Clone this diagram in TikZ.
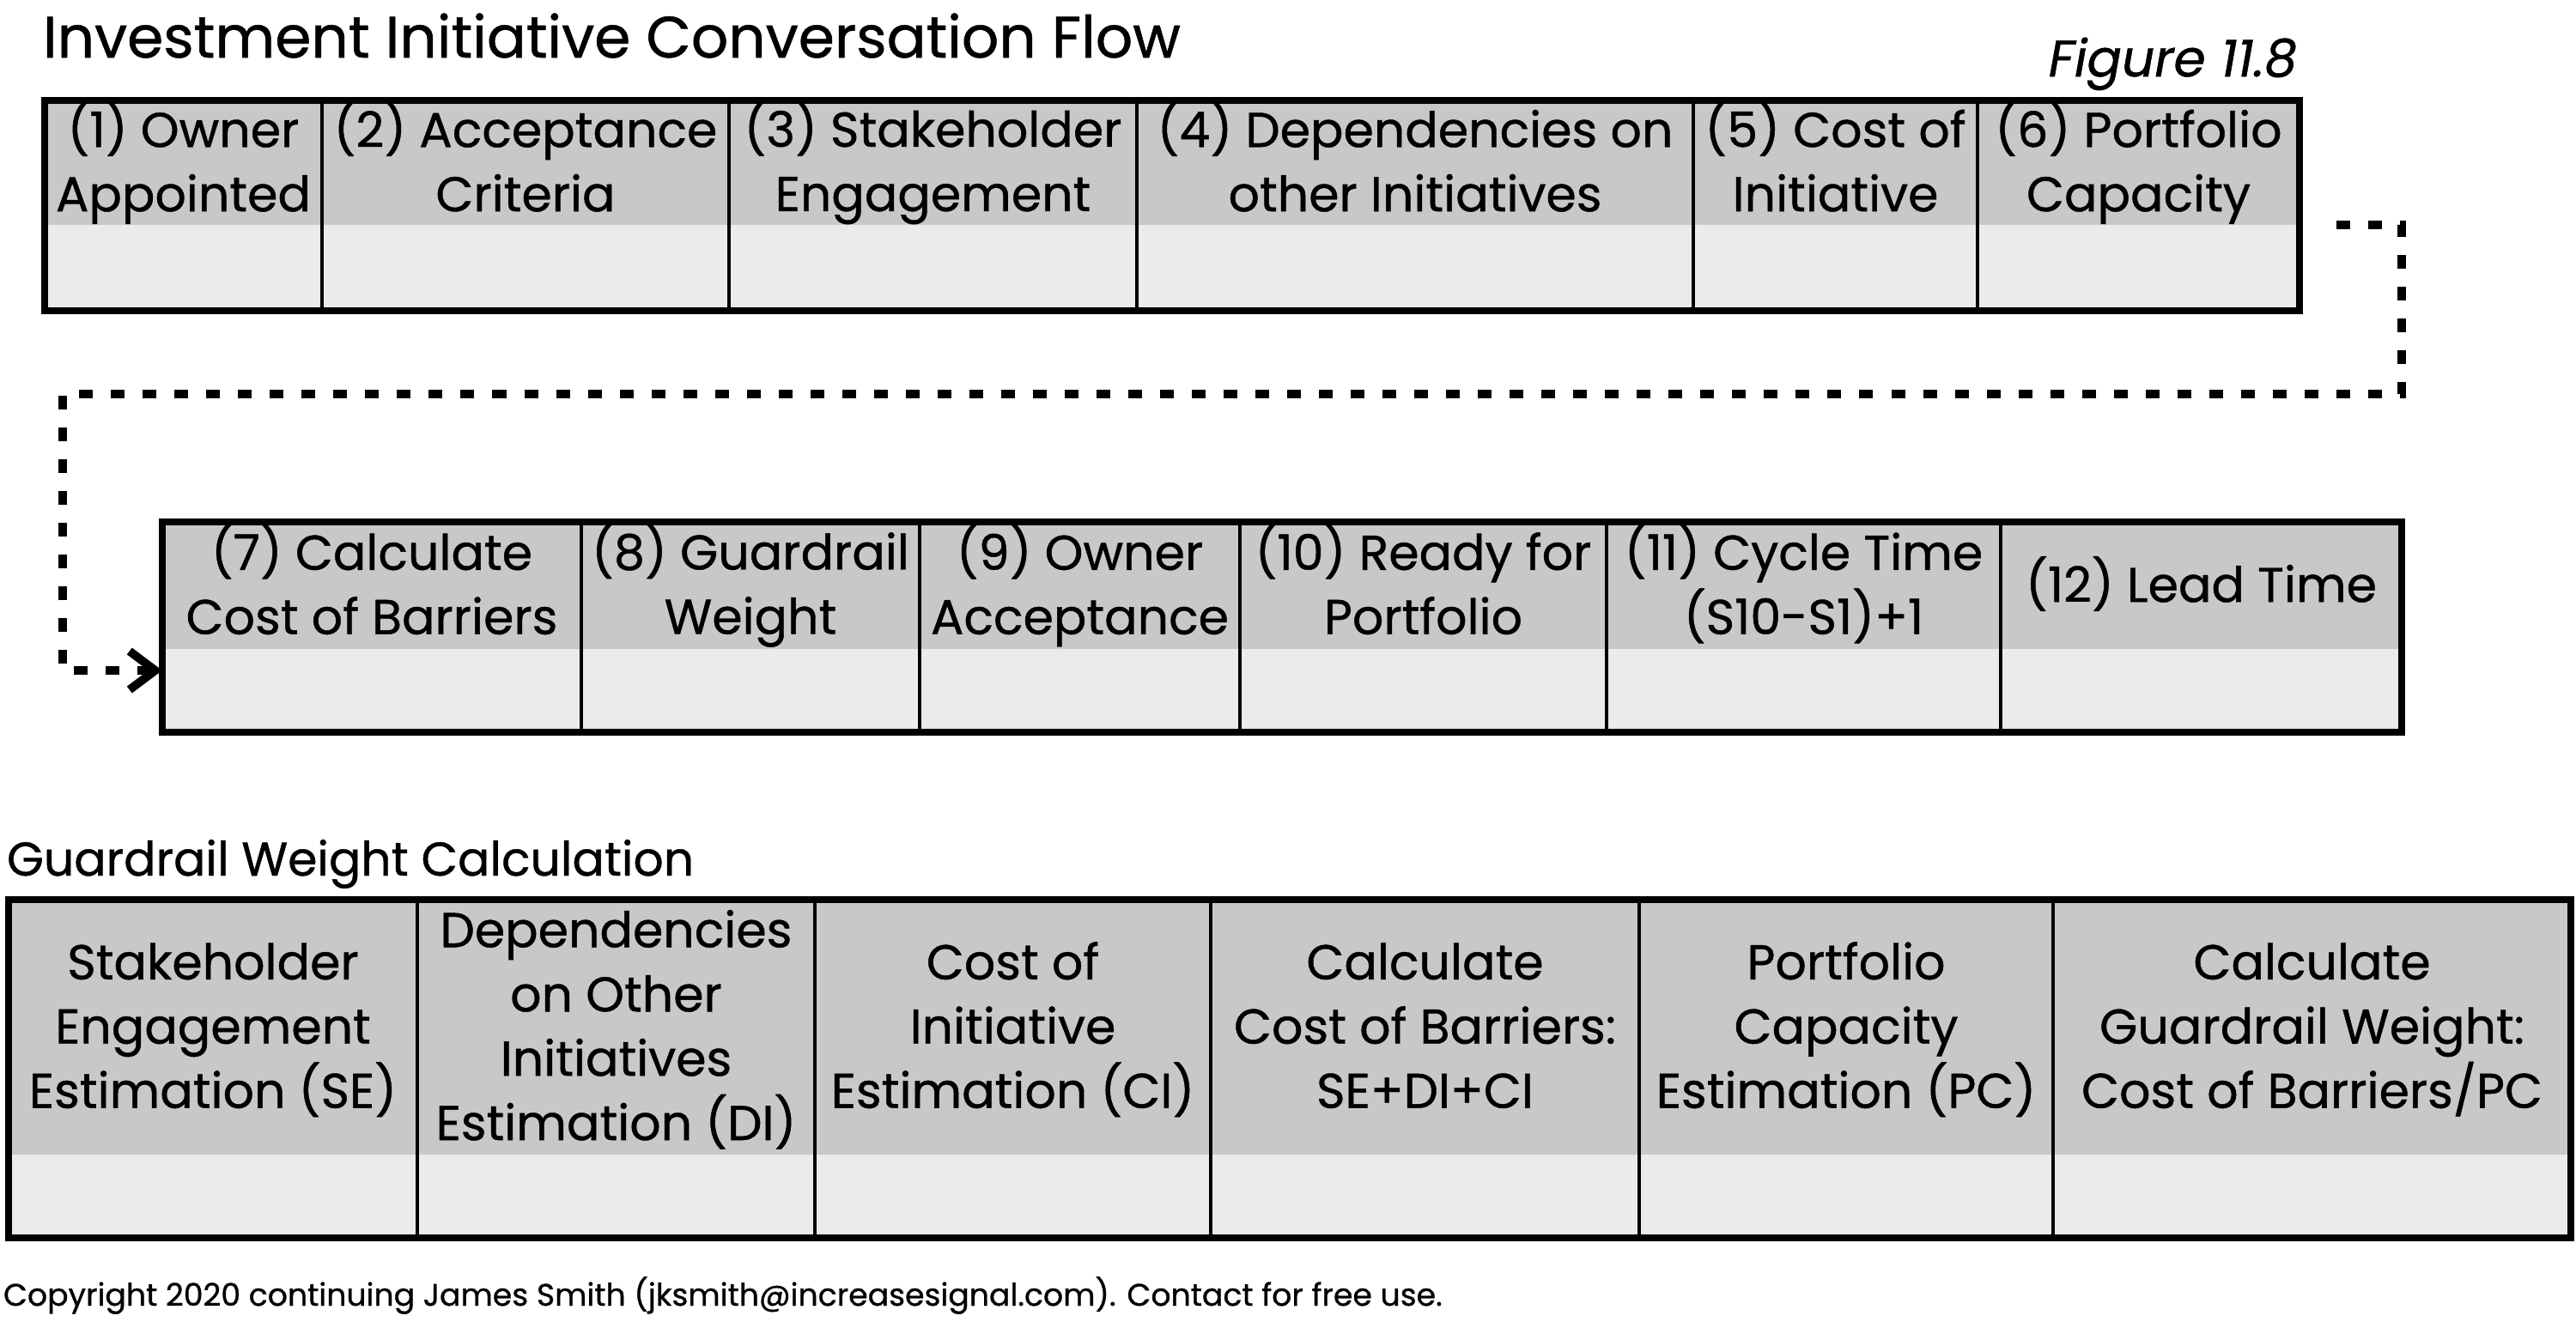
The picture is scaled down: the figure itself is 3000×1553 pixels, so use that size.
\documentclass[tikz,border=0pt]{standalone}
\usepackage{fontspec}
\setmainfont{Poppins}[FakeBold=0.8]
\usetikzlibrary{arrows.meta,calc}
\definecolor{headgray}{HTML}{C8C8C8}
\definecolor{bodygray}{HTML}{EBEBEB}

\tikzset{
  hcell/.style={fill=headgray, draw=none, inner sep=0pt, outer sep=0pt, anchor=north west,
    align=center, font=\fontsize{16.2}{21.3}\selectfont},
  bcell/.style={fill=bodygray, draw=none, inner sep=0pt, outer sep=0pt, anchor=north west},
  divider/.style={line width=1pt, black},
  tableframe/.style={line width=2.3pt, black},
  flow/.style={line width=2.8pt, dash pattern=on 0.16cm off 0.21cm,
    -{Straight Barb[length=0.3cm,width=0.45cm]}},
  label/.style={inner sep=0pt, outer sep=0pt},
}

% equal top and bottom extent for every header text
\newcommand\linestrut{\vphantom{(p}}

% one column of a table: header cell with its text, empty body cell below
% #1 name, #2 left, #3 right, #4 top, #5 header bottom, #6 bottom, #7 text
\newcommand\tcell[7]{%
  \node[hcell, minimum width={(#3-#2)*0.01cm}, minimum height={(#5-#4)*0.01cm}] (#1h) at (#2,#4)
    {\linestrut#7\linestrut};
  \node[bcell, minimum width={(#3-#2)*0.01cm}, minimum height={(#6-#5)*0.01cm}] (#1b) at (#2,#5) {};
}
\newcommand\tdiv[1]{\draw[divider] (#1h.north east) -- (#1b.south east);}

\begin{document}
\begin{tikzpicture}[x=0.01cm, y=-0.01cm]
\useasboundingbox (0,0) rectangle (3000,1553);

% titles
\node[label, anchor=base west, font=\fontsize{19.3}{23}\selectfont] (title) at (50,67)
  {Investment Initiative Conversation Flow};
\node[label, anchor=base east, font=\fontsize{17}{20}\selectfont\itshape] (fig) at (2675,89)
  {Figure 11.8};

% first row of the flow
\tcell{p1}{52}{375}{117}{262}{362}{(1) Owner\\Appointed}
\tcell{p2}{375}{849}{117}{262}{362}{(2) Acceptance\\Criteria}
\tcell{p3}{849}{1324}{117}{262}{362}{(3) Stakeholder\\Engagement}
\tcell{p4}{1324}{1972}{117}{262}{362}{(4) Dependencies on\\other Initiatives}
\tcell{p5}{1972}{2303}{117}{262}{362}{(5) Cost of\\Initiative}
\tcell{p6}{2303}{2678}{117}{262}{362}{(6) Portfolio\\Capacity}
\foreach \c in {p1,p2,p3,p4,p5} {\tdiv{\c}}
\draw[tableframe] (p1h.north west) rectangle (p6b.south east);

% second row of the flow
\tcell{p7}{189}{677}{608}{756}{853}{(7) Calculate\\Cost of Barriers}
\tcell{p8}{677}{1071}{608}{756}{853}{(8) Guardrail\\Weight}
\tcell{p9}{1071}{1444}{608}{756}{853}{(9) Owner\\Acceptance}
\tcell{p10}{1444}{1871}{608}{756}{853}{(10) Ready for\\Portfolio}
\tcell{p11}{1871}{2330}{608}{756}{853}{(11) Cycle Time\\(S10-S1)+1}
\tcell{p12}{2330}{2797}{608}{756}{853}{(12) Lead Time}
\foreach \c in {p7,p8,p9,p10,p11} {\tdiv{\c}}
\draw[tableframe] (p7h.north west) rectangle (p12b.south east);

% connector from the first row to the second
\coordinate (s) at ($(p6h.south east)+(43,0)$);
\coordinate (k1) at (2797,262);
\coordinate (k2) at (2797,459);
\coordinate (k3) at (73,459);
\coordinate (k4) at (73,781);
\draw[flow] (s) -- (k1) -- (k2) -- (k3) -- (k4) -- (k4 -| p7h.west);

% guardrail weight calculation
\node[label, anchor=base west, font=\fontsize{15.7}{19}\selectfont] (gtitle) at (8,1020)
  {Guardrail Weight Calculation};
\tcell{g1}{10}{486}{1048}{1345}{1442}{Stakeholder\\Engagement\\Estimation (SE)}
\tcell{g2}{486}{949}{1048}{1345}{1442}{Dependencies\\on Other\\Initiatives\\Estimation (DI)}
\tcell{g3}{949}{1410}{1048}{1345}{1442}{Cost of\\Initiative\\Estimation (CI)}
\tcell{g4}{1410}{1909}{1048}{1345}{1442}{Calculate\\Cost of Barriers:\\SE+DI+CI}
\tcell{g5}{1909}{2391}{1048}{1345}{1442}{Portfolio\\Capacity\\Estimation (PC)}
\tcell{g6}{2391}{2994}{1048}{1345}{1442}{Calculate\\Guardrail Weight:\\Cost of Barriers/PC}
\foreach \c in {g1,g2,g3,g4,g5} {\tdiv{\c}}
\draw[tableframe] (g1h.north west) rectangle (g6b.south east);

\node[label, anchor=base west, font=\fontsize{10.3}{12}\selectfont] (copy) at (4,1521)
  {Copyright 2020 continuing James Smith (jksmith@increasesignal.com). Contact for free use.};
\end{tikzpicture}
\end{document}
